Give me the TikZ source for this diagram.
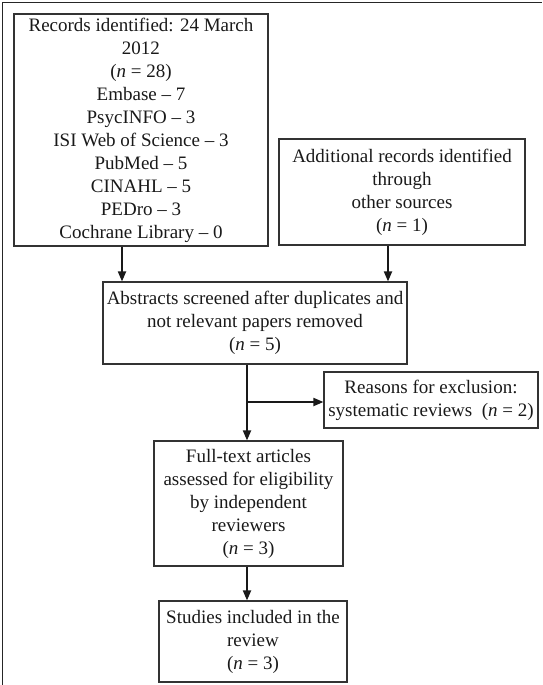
\documentclass[tikz,border=0pt]{standalone}
\usepackage{fontspec}
\setmainfont{Liberation Serif}
\usetikzlibrary{arrows.meta}
\begin{document}
\begin{tikzpicture}[x=1pt,y=-1pt,
  box/.style={draw=black!80, line width=1.1pt, inner sep=0pt, align=center, text=black!90, font=\fontsize{19}{23}\selectfont},
  arr/.style={line width=1.8pt, -{Triangle[width=8pt,length=10pt]}, draw=black!90},
  frame/.style={line width=1.3pt, draw=black!85}]
\useasboundingbox (0,0) rectangle (542,685);
\draw[frame] (2.5,685) -- (2.5,2.5) -- (542,2.5);

\node[box, minimum width=254pt, minimum height=232pt] (b1) at (141,130)
  {Records identified: 24 March\\2012\\(\textit{n} = 28)\\Embase – 7\\PsycINFO – 3\\ISI Web of Science – 3\\PubMed – 5\\CINAHL – 5\\PEDro – 3\\Cochrane Library – 0};
\node[box, minimum width=246pt, minimum height=106pt] (b2) at (402,192)
  {Additional records identified\\through\\other sources\\(\textit{n} = 1)};
\node[box, minimum width=304pt, minimum height=82pt] (b3) at (255,323)
  {Abstracts screened after duplicates and\\not relevant papers removed\\(\textit{n} = 5)};
\node[box, minimum width=214pt, minimum height=56pt] (rx) at (431,400)
  {Reasons for exclusion:\\systematic reviews\ \ (\textit{n} = 2)};
\node[box, minimum width=189pt, minimum height=125pt] (b4) at (248.5,503.5)
  {Full-text articles\\assessed for eligibility\\by independent\\reviewers\\(\textit{n} = 3)};
\node[box, minimum width=188pt, minimum height=81pt] (b5) at (253,641.5)
  {Studies included in the\\review\\(\textit{n} = 3)};

\coordinate (xa) at (122,0);
\coordinate (xb) at (388,0);
\coordinate (xm) at (247,0);
\coordinate (br) at (247,402);
\draw[arr] (xa |- b1.south) -- (xa |- b3.north);
\draw[arr] (xb |- b2.south) -- (xb |- b3.north);
\draw[arr] (xm |- b3.south) -- (xm |- b4.north);
\draw[arr] (br) -- (rx.west |- br);
\draw[arr] (xm |- b4.south) -- (xm |- b5.north);
\end{tikzpicture}
\end{document}
